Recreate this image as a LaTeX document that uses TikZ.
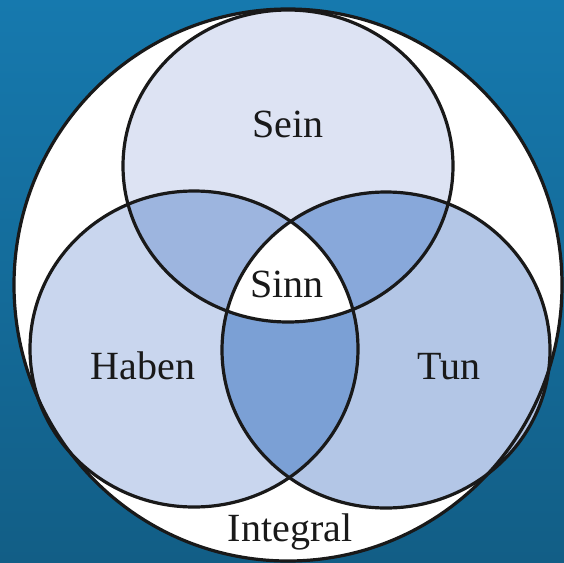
\documentclass[tikz,border=0pt]{standalone}
\usepackage{fontspec}
\setmainfont{Liberation Serif}
\usepackage{xcolor}

\definecolor{seincol}{HTML}{DDE3F3}
\definecolor{habencol}{HTML}{C9D6EE}
\definecolor{tuncol}{HTML}{B3C6E6}
\definecolor{seinhaben}{HTML}{9DB5DF}
\definecolor{seintun}{HTML}{88A8DA}
\definecolor{habentun}{HTML}{7BA0D5}
\definecolor{seatop}{HTML}{1679AE}
\definecolor{seabottom}{HTML}{125E86}

\begin{document}
\begin{tikzpicture}[x=1pt, y=-1pt,
    rim/.style={draw=black!90, line width=3.2pt},
    venntext/.style={font=\fontsize{40}{44}\selectfont, text=black!90, anchor=base}]
    \useasboundingbox (0,0) rectangle (564,562);
    \shade[top color=seatop, bottom color=seabottom] (0,0) rectangle (564,562);

    \coordinate (whole) at (288,285);
    \coordinate (sein) at (288,166);
    \coordinate (haben) at (194,349);
    \coordinate (tun) at (386,350);

    % outer circle and single sets
    \fill[white] (whole) ellipse [x radius=274pt, y radius=276pt];
    \fill[seincol] (sein) ellipse [x radius=165pt, y radius=156pt];
    \fill[habencol] (haben) ellipse [x radius=164pt, y radius=158pt];
    \fill[tuncol] (tun) ellipse [x radius=164pt, y radius=158pt];

    % pairwise overlaps
    \begin{scope}
        \clip (sein) ellipse [x radius=165pt, y radius=156pt];
        \fill[seinhaben] (haben) ellipse [x radius=164pt, y radius=158pt];
        \fill[seintun] (tun) ellipse [x radius=164pt, y radius=158pt];
    \end{scope}
    \begin{scope}
        \clip (haben) ellipse [x radius=164pt, y radius=158pt];
        \fill[habentun] (tun) ellipse [x radius=164pt, y radius=158pt];
        \clip (tun) ellipse [x radius=164pt, y radius=158pt];
        \fill[white] (sein) ellipse [x radius=165pt, y radius=156pt];
    \end{scope}

    % outlines
    \draw[rim] (whole) ellipse [x radius=274pt, y radius=276pt];
    \draw[rim] (sein) ellipse [x radius=165pt, y radius=156pt];
    \draw[rim] (haben) ellipse [x radius=164pt, y radius=158pt];
    \draw[rim] (tun) ellipse [x radius=164pt, y radius=158pt];

    \node[venntext] (seinlabel) at (288,137) {Sein};
    \node[venntext] (sinnlabel) at (287,297) {Sinn};
    \node[venntext] (habenlabel) at (143,379) {Haben};
    \node[venntext] (tunlabel) at (449,379) {Tun};
    \node[venntext] (integrallabel) at (290,541) {Integral};
\end{tikzpicture}
\end{document}
